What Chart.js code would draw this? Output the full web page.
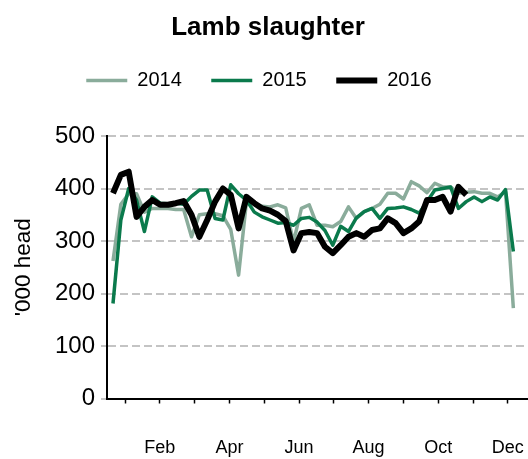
<!DOCTYPE html>
<html>
<head>
<meta charset="utf-8">
<script src="https://cdn.jsdelivr.net/npm/chart.js@4/dist/chart.umd.min.js"></script>
<style>
  html, body { margin: 0; padding: 0; background: #fff; overflow: hidden; }
  #wrap { width: 536px; height: 459px; }
</style>
</head>
<body>
<div id="wrap"><canvas id="lambChart" width="536" height="459"></canvas></div>
<script>
/* ---- data (weekly, '000 head) ---- */
const monthLabels = ["Jan", "Feb", "Mar", "Apr", "May", "Jun", "Jul", "Aug", "Sep", "Oct", "Nov", "Dec"];
const yTicks = [0, 100, 200, 300, 400, 500];

const seriesNames = ["2014", "2015", "2016"];

const lamb2014 = [262, 370, 390, 390, 355, 362, 362, 362, 360, 360, 308, 350, 352,
                  352, 348, 322, 235, 375, 372, 366, 365, 369, 363, 298, 362, 369,
                  330, 330, 327, 337, 365, 343, 356, 362, 370, 391, 391, 380, 413,
                  405, 392, 410, 403, 403, 391, 393, 394, 391, 391, 384, 394, 172];

const lamb2015 = [181, 340, 400, 378, 318, 384, 372, 371, 372, 370, 385, 397, 397,
                  343, 340, 407, 390, 378, 355, 346, 340, 334, 335, 330, 343, 345,
                  336, 320, 292, 328, 318, 344, 356, 362, 343, 362, 363, 365, 360,
                  353, 375, 397, 400, 403, 362, 375, 384, 375, 384, 378, 398, 280];

const lamb2016 = [391, 426, 432, 346, 365, 378, 369, 369, 372, 376, 350, 308, 340,
                  375, 400, 388, 324, 384, 372, 362, 358, 350, 338, 282, 315, 317,
                  315, 289, 277, 292, 308, 315, 308, 321, 324, 343, 334, 315, 324,
                  337, 378, 378, 384, 356, 403, 388];

const seriesColors = ["#8aac9b", "#0a7a4c", "#000000"];
const seriesWidths = [3.5, 3.5, 6];

const FONT = "'Liberation Sans', Arial, sans-serif";

function toPoints(arr) {
    return arr.map((v, i) => ({ x: i + 1, y: v }));
}

// month tick positions in week units
const monthPos = monthLabels.map((m, k) => 2.53 + 4.433 * k);

const allSeries = [lamb2014, lamb2015, lamb2016];

// nudge legend a little to the left, like the original
const legendShift = {
    id: "legendShift",
    afterLayout(chart) {
        if (chart.legend) {
            chart.legend.left -= 9;
            chart.legend.right -= 9;
        }
    }
};

new Chart(document.getElementById("lambChart"), {
    type: "line",
    data: {
        datasets: allSeries.map((s, i) => ({
            label: seriesNames[i],
            data: toPoints(s),
            borderColor: seriesColors[i],
            backgroundColor: seriesColors[i],
            borderWidth: seriesWidths[i],
            pointRadius: 0,
            pointStyle: "line",
            tension: 0,
            borderJoinStyle: "round",
            order: 3 - i,
            xAxisID: "x",
            yAxisID: "y"
        }))
    },
    plugins: [legendShift],
    options: {
        responsive: false,
        animation: false,
        layout: { padding: 0 },
        plugins: {
            title: {
                display: true,
                text: "Lamb slaughter",
                color: "#000",
                font: { family: FONT, size: 26, weight: "bold", lineHeight: 1 },
                padding: { top: 15, bottom: 0 }
            },
            legend: {
                display: true,
                labels: {
                    color: "#000",
                    font: { family: FONT, size: 20 },
                    usePointStyle: true,
                    pointStyleWidth: 41,
                    padding: 29.5,
                    sort: (a, b) => a.datasetIndex - b.datasetIndex
                }
            },
            tooltip: { enabled: false }
        },
        scales: {
            x: {
                type: "linear",
                position: "bottom",
                min: 0.236,
                max: 54.885,
                afterBuildTicks(scale) {
                    scale.ticks = monthPos.map(v => ({ value: v }));
                },
                afterFit(scale) {
                    scale.height = 60.5;
                    scale.paddingLeft = 0;
                    scale.paddingRight = 0;
                },
                ticks: {
                    autoSkip: false,
                    maxRotation: 0,
                    color: "#000",
                    padding: 34,
                    font: { family: FONT, size: 18 },
                    callback: (value, index) => index % 2 === 1 ? monthLabels[index] : ""
                },
                grid: {
                    drawOnChartArea: false,
                    drawTicks: true,
                    tickLength: 5,
                    tickColor: "#000",
                    tickWidth: 1.5
                },
                border: { display: true, color: "#000", width: 2 }
            },
            gap: {
                type: "linear",
                axis: "x",
                position: "top",
                display: true,
                ticks: { display: false },
                grid: { display: false },
                border: { display: false },
                afterFit(scale) {
                    scale.height = 35.5;
                    scale.paddingLeft = 0;
                    scale.paddingRight = 0;
                }
            },
            y: {
                type: "linear",
                min: 0,
                max: 500,
                afterBuildTicks(scale) {
                    scale.ticks = yTicks.map(v => ({ value: v }));
                },
                afterFit(scale) { scale.width = 107; },
                title: {
                    display: true,
                    text: "'000 head",
                    color: "#000",
                    font: { family: FONT, size: 22.5 },
                    padding: { top: 10, bottom: 0 }
                },
                ticks: {
                    color: "#000",
                    padding: 6,
                    font: { family: FONT, size: 24 }
                },
                grid: {
                    color: ctx => ctx.tick && ctx.tick.value === 0 ? "rgba(0,0,0,0)" : "#c4c4c4",
                    lineWidth: 2,
                    drawTicks: true,
                    tickLength: 6,
                    tickColor: "#b0b0b0",
                    tickWidth: 1.5
                },
                border: { display: true, color: "#000", width: 2, dash: [8, 4] }
            }
        }
    }
});
</script>
</body>
</html>
